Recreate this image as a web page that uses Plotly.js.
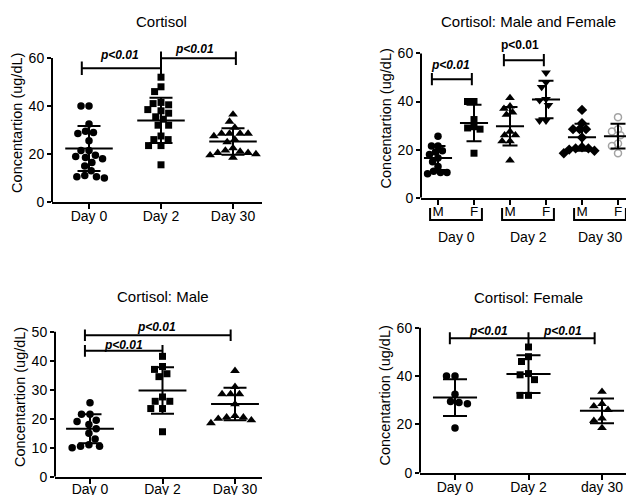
<!DOCTYPE html>
<html><head><meta charset="utf-8">
<script src="https://cdn.plot.ly/plotly-3.0.1.min.js"></script>
<style>html,body{margin:0;padding:0;background:#fff}#chart{width:626px;height:495px}</style>
</head><body><div id="chart"></div>
<script>
// ---------------- data ----------------
const dayLabels = ['Day 0', 'Day 2', 'Day 30'];
const dayLabelsFemale = ['Day 0', 'Day 2', 'day 30'];
const sexLabels = ['M', 'F', 'M', 'F', 'M', 'F'];
const groupLabels = ['Day 0', 'Day 2', 'Day 30'];
const titles = ['Cortisol', 'Cortisol: Male and Female', 'Cortisol: Male', 'Cortisol: Female'];
const yTitle = 'Concentartion (ug/dL)';
const pText = 'p&lt;0.01';

const maleDay0 = [25.5, 21.5, 21.5, 19.5, 19, 18, 16.5, 15, 13, 11, 10.5, 10.5, 10];
const maleDay2 = [41.5, 38, 37, 35.5, 34.5, 27.5, 26, 26, 23.5, 23.5, 15.5];
const maleDay30 = [36.5, 31, 28.5, 28.5, 28.5, 25, 21, 20.5, 20.5, 20, 19.5, 18.5];
const femaleDay0 = [40, 40, 32.5, 29.5, 29, 28.5, 18.5];
const femaleDay2 = [52, 48, 46, 41, 40.5, 38.5, 32, 32];
const femaleDay30 = [33.5, 28.5, 27.5, 26, 22.5, 21.5, 18.5];

const allMean = [22.3, 34.0, 25.2];
const allSD = [9.4, 9.4, 5.5];
const mfMean = [16.5, 31.1, 29.7, 40.8, 25.1, 25.6];
const mfSD = [5.0, 7.6, 8.0, 7.8, 5.6, 5.1];
const maleMean = [16.5, 29.7, 25.1];
const maleSD = [5.0, 8.0, 5.6];
const femaleMean = [31.1, 40.8, 25.6];
const femaleSD = [7.6, 7.8, 5.1];

// ---------------- styles / layout geometry ----------------
const W = 626, H = 495;
const FONT = 'Arial, "Liberation Sans", sans-serif';
const BLACK = '#000';
const GREY = '#a3a3a3';
const SYM = {
  circle: {symbol: 'circle', size: 7.5, color: BLACK},
  square: {symbol: 'square', size: 7, color: BLACK},
  tri: {symbol: 'triangle-up', size: 8.5, color: BLACK},
  triDown: {symbol: 'triangle-down', size: 8.5, color: BLACK},
  diamond: {symbol: 'diamond', size: 8, color: BLACK},
  openGrey: {symbol: 'circle-open', size: 7, color: GREY, line: {width: 1.5, color: GREY}}
};
const P = [
  {ax: '', xl: 52, xr: 262, c0: 89, xpu: 72, y0: 202, ypu: 2.4, ymax: 66, ytop: 60, dt: 20, meanHalf: 0.33, cap: 11.5, d: 8,
   ticktext: dayLabels, title: {x: 161, y: 21.5}, lblOff: -5},
  {ax: '2', xl: 421, xr: 626, c0: 438, xpu: 36, y0: 197.7, ypu: 2.405, ymax: 66, ytop: 60, dt: 20, meanHalf: 0.39, cap: 7.5, d: 6.5,
   ticktext: sexLabels, title: {x: 528, y: 21.5}, lblOff: -5},
  {ax: '3', xl: 55, xr: 262, c0: 90, xpu: 72.5, y0: 476.7, ypu: 2.9, ymax: 55, ytop: 50, dt: 10, meanHalf: 0.33, cap: 11.5, d: 8.5,
   ticktext: dayLabels, title: {x: 162.5, y: 296}, lblOff: -7},
  {ax: '4', xl: 420, xr: 626, c0: 455, xpu: 73.5, y0: 472.7, ypu: 2.417, ymax: 64, ytop: 60, dt: 20, meanHalf: 0.3, cap: 12, d: 8.5,
   ticktext: dayLabelsFemale, title: {x: 528, y: 297}, lblOff: -5}
];

const groups = [
  [[maleDay0.concat(femaleDay0), 'circle'], [maleDay2.concat(femaleDay2), 'square'], [maleDay30.concat(femaleDay30), 'tri']],
  [[maleDay0, 'circle'], [femaleDay0, 'square'], [maleDay2, 'tri'], [femaleDay2, 'triDown'], [maleDay30, 'diamond'], [femaleDay30, 'openGrey']],
  [[maleDay0, 'circle'], [maleDay2, 'square'], [maleDay30, 'tri']],
  [[femaleDay0, 'circle'], [femaleDay2, 'square'], [femaleDay30, 'tri']]
];
const stats = [[allMean, allSD], [mfMean, mfSD], [maleMean, maleSD], [femaleMean, femaleSD]];

const brackets = [
  {panel: 0, xs: [-0.1, 1], y: 55.7, h: 2.8, labels: [{x: 0.43, lift: 4, italic: true}]},
  {panel: 0, xs: [1, 2.04], y: 59.9, h: 2.8, labels: [{x: 1.46, lift: 0, italic: true}]},
  {panel: 1, xs: [-0.17, 0.94], y: 49.3, h: 2.5, labels: [{x: 0.36, lift: 5, italic: true}]},
  {panel: 1, xs: [1.83, 2.94], y: 57.2, h: 2.5, labels: [{x: 2.28, lift: 6, italic: false}]},
  {panel: 2, xs: [-0.07, 1.94], y: 48.8, h: 2.0, labels: [{x: 0.92, lift: -1, italic: true}]},
  {panel: 2, xs: [-0.07, 1.0], y: 43.4, h: 2.0, labels: [{x: 0.46, lift: -3, italic: true}]},
  {panel: 3, xs: [-0.07, 1, 1.9], y: 55.6, h: 2.5, labels: [{x: 0.45, lift: -2, italic: true}, {x: 1.46, lift: -2, italic: true}]}
];

function swarm(vals, d, pxX, pxY) {
  const order = vals.map((v, i) => i).sort((a, b) => vals[b] - vals[a]);
  const placed = [];
  const off = new Array(vals.length).fill(0);
  for (const i of order) {
    const y = vals[i] * pxY;
    const cands = [0];
    for (const p of placed) {
      const dy = Math.abs(p.y - y);
      if (dy < d) { const dx = Math.sqrt(d * d - dy * dy); cands.push(p.x + dx, p.x - dx); }
    }
    cands.sort((a, b) => Math.abs(a) - Math.abs(b) || a - b);
    for (const c of cands) {
      if (placed.every(p => Math.hypot(p.x - c, p.y - y) >= d - 1e-6)) {
        off[i] = c; placed.push({x: c, y: y}); break;
      }
    }
  }
  return off.map(o => o / pxX);
}

const traces = [];
const annotations = [];
const shapes = [];
const layout = {
  width: W, height: H, margin: {l: 0, r: 0, t: 0, b: 0},
  paper_bgcolor: '#fff', plot_bgcolor: 'rgba(0,0,0,0)',
  showlegend: false, hovermode: false,
  font: {family: FONT, color: BLACK, size: 14}
};

P.forEach((p, pi) => {
  const xa = 'x' + p.ax, ya = 'y' + p.ax;
  const yTicks = [];
  for (let v = 0; v <= p.ytop; v += p.dt) yTicks.push(v);
  layout['xaxis' + p.ax] = {
    domain: [p.xl / W, p.xr / W],
    range: [(p.xl - p.c0) / p.xpu, (p.xr - p.c0) / p.xpu],
    anchor: ya, showline: true, linewidth: 2, linecolor: BLACK,
    ticks: 'outside', ticklen: 5, tickwidth: 2, tickcolor: BLACK,
    ticklabelstandoff: p.lblOff,
    tickvals: p.ticktext.map((t, i) => i), ticktext: p.ticktext,
    showgrid: false, zeroline: false, fixedrange: true,
    tickfont: {family: FONT, size: pi === 1 ? 13.5 : 14, color: BLACK}
  };
  layout['yaxis' + p.ax] = {
    domain: [1 - p.y0 / H, 1 - (p.y0 - p.ymax * p.ypu) / H],
    range: [0, p.ymax], anchor: xa, showline: false,
    ticks: 'outside', ticklen: 4, tickwidth: 2, tickcolor: BLACK,
    tickvals: yTicks, showgrid: false, zeroline: false, fixedrange: true,
    tickfont: {family: FONT, size: 14, color: BLACK},
    title: {text: yTitle, font: {family: FONT, size: 14.5, color: BLACK}, standoff: 2}
  };
  shapes.push({type: 'line', xref: xa + ' domain', yref: ya, x0: 0, x1: 0, y0: 0, y1: p.ytop,
    line: {color: BLACK, width: 2}});

  groups[pi].forEach((g, ci) => {
    const vals = g[0];
    const offs = swarm(vals, p.d, p.xpu, p.ypu);
    const s = SYM[g[1]];
    traces.push({
      type: 'scatter', mode: 'markers', xaxis: xa, yaxis: ya,
      x: vals.map((v, i) => ci + offs[i]), y: vals,
      marker: {symbol: s.symbol, size: s.size, color: s.color, line: s.line || {width: 0}},
      cliponaxis: false
    });
  });
  const mean = stats[pi][0], sd = stats[pi][1];
  traces.push({
    type: 'scatter', mode: 'markers', xaxis: xa, yaxis: ya,
    x: mean.map((m, i) => i), y: mean,
    marker: {size: 1, color: 'rgba(0,0,0,0)'},
    error_x: {type: 'constant', value: p.meanHalf, width: 0, thickness: 2, color: BLACK},
    error_y: {type: 'data', array: sd, symmetric: true, width: p.cap, thickness: 2, color: BLACK},
    cliponaxis: false
  });
  annotations.push({text: titles[pi], xref: 'paper', yref: 'paper', x: p.title.x / W, y: 1 - p.title.y / H,
    xanchor: 'center', yanchor: 'middle', showarrow: false, font: {family: FONT, size: 15, color: BLACK}});
});

brackets.forEach(b => {
  const p = P[b.panel];
  const xa = 'x' + p.ax, ya = 'y' + p.ax;
  const x = [b.xs[0], b.xs[b.xs.length - 1], null];
  const y = [b.y, b.y, null];
  b.xs.forEach(xx => { x.push(xx, xx, null); y.push(b.y - b.h, b.y + b.h, null); });
  traces.push({type: 'scatter', mode: 'lines', xaxis: xa, yaxis: ya, x: x, y: y,
    line: {color: BLACK, width: 2}, connectgaps: false});
  b.labels.forEach(l => {
    annotations.push({text: pText, xref: xa, yref: ya, x: l.x, y: b.y, xanchor: 'center', yanchor: 'bottom',
      yshift: l.lift, showarrow: false,
      font: {family: FONT, size: 12, color: BLACK, weight: 'bold', style: l.italic ? 'italic' : 'normal'}});
  });
});

groupLabels.forEach((g, gi) => {
  const c0 = gi * 2, c1 = gi * 2 + 1;
  annotations.push({text: g, xref: 'x2', yref: 'paper', x: (c0 + c1) / 2, y: 1 - 237 / H,
    xanchor: 'center', yanchor: 'middle', showarrow: false, font: {family: FONT, size: 14, color: BLACK}});
  const yt = 1 - 208 / H, yb = 1 - 220 / H, a = c0 - 0.22, bb = c1 + 0.22;
  shapes.push({type: 'path', xref: 'x2', yref: 'paper',
    path: 'M' + a + ',' + yt + 'L' + a + ',' + yb + 'L' + bb + ',' + yb + 'L' + bb + ',' + yt,
    line: {color: BLACK, width: 2}});
});

layout.annotations = annotations;
layout.shapes = shapes;

Plotly.newPlot('chart', traces, layout, {staticPlot: true, displayModeBar: false});
</script>
</body></html>
